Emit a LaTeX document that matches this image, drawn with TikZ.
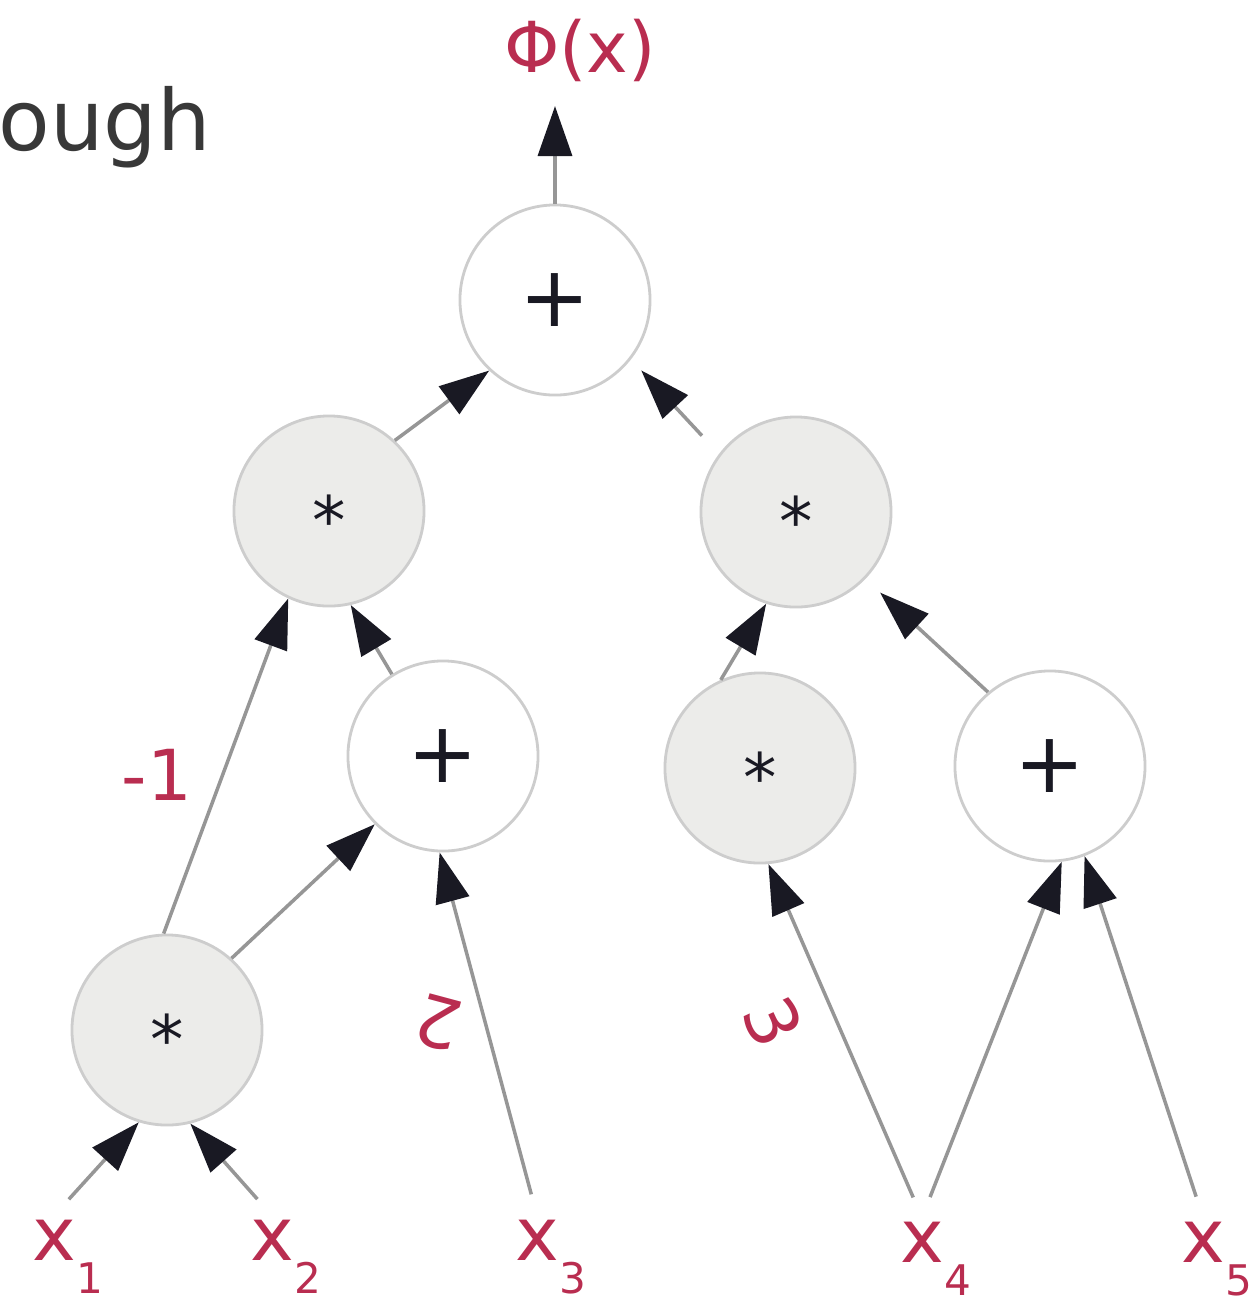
\documentclass[tikz,border=0pt]{standalone}
\usepackage{fontspec}
\setmainfont{DejaVu Sans}
\usepackage{tikz}
\usetikzlibrary{arrows.meta, positioning}
\definecolor{lbl}{RGB}{185,45,80}
\definecolor{wire}{RGB}{150,150,150}
\definecolor{rim}{RGB}{205,205,205}
\definecolor{shade}{RGB}{236,236,234}
\definecolor{ink}{RGB}{25,25,35}
\newcommand{\mulsign}{\fontsize{19}{19}\selectfont\smash{\raisebox{-0.5em}{*}}}

\begin{document}
\begin{tikzpicture}[x=0.01cm, y=-0.01cm,
  op/.style={circle, draw=rim, line width=0.8pt, minimum size=1.9cm,
    inner sep=0pt, text=ink, font=\fontsize{24}{24}\selectfont},
  addop/.style={op, fill=white},
  mulop/.style={op, fill=shade},
  var/.style={text=lbl, inner sep=1pt, font=\fontsize{21}{21}\selectfont},
  varsub/.style={text=lbl, inner sep=0pt, label distance=-1pt,
    font=\fontsize{12}{12}\selectfont},
  wt/.style={text=lbl, inner sep=2pt, font=\fontsize{20}{20}\selectfont},
  arr/.style={-{Triangle[length=5mm, width=3.4mm, color=ink]}, wire, line width=1pt},
  inarr/.style={arr, shorten <=0.22cm}
]
\useasboundingbox (0,0) rectangle (1259,1308);

% Caption fragment
\node[anchor=base west, inner sep=0pt, text=black!78,
  font=\fontsize{24}{24}\selectfont] (cap) at (-2,150) {ough};

% Output
\node[wt] (phi) at (580,50) {Φ(x)};

% Operator tree
\node[addop] (root) at (555,300) {+};
\node[mulop] (mulL) at (329,511) {\mulsign};
\node[mulop] (mulR) at (796,512) {\mulsign};
\node[addop] (addM) at (443,756) {+};
\node[mulop] (mulM) at (760,768) {\mulsign};
\node[addop] (addR) at (1050,766) {+};
\node[mulop] (mulB) at (167,1030) {\mulsign};

% Inputs
\node[var, label={[varsub]-45:1}] (x1) at (54,1240) {x};
\node[var, label={[varsub]-45:2}] (x2) at (272,1240) {x};
\node[var, label={[varsub]-45:3}] (x3) at (537,1240) {x};
\node[var, label={[varsub]-45:4}] (x4) at (922,1242) {x};
\node[var, label={[varsub]-45:5}] (x5) at (1203,1242) {x};

% Weights
\node[wt] (w1) at (157,775) {-1};
\node[wt, rotate=165] (w2) at (438,1023) {2};
\node[wt, rotate=-65] (w3) at (773,1022) {3};

% Arrows
\draw[arr, shorten >=0.17cm] (root.north) -- (root.north |- phi.south);
\draw[arr] (mulL.47) -- (root.227);
\draw[arr, shorten <=0.25cm, shorten >=0.15cm] (mulR.143) -- (root.322);
\draw[arr] (mulB.92) -- (mulL.245);
\draw[arr] (mulB.48) -- (addM.225);
\draw[arr] (addM.122) -- (mulL.283);
\draw[arr] (mulM.114) -- (mulR.252);
\draw[arr, shorten >=0.2cm] (addR.130) -- (mulR.316);

% Input wires
\draw[inarr] (x1.north) -- (mulB.253);
\draw[inarr] (x2.north) -- (mulB.284);
\draw[inarr] (x3.north) -- (addM.268);
\draw[inarr] (x4.north) -- (mulM.275);
\draw[inarr] (x4.north) -- (addR.277);
\draw[inarr] (x5.north) -- (addR.291);

\end{tikzpicture}
\end{document}
